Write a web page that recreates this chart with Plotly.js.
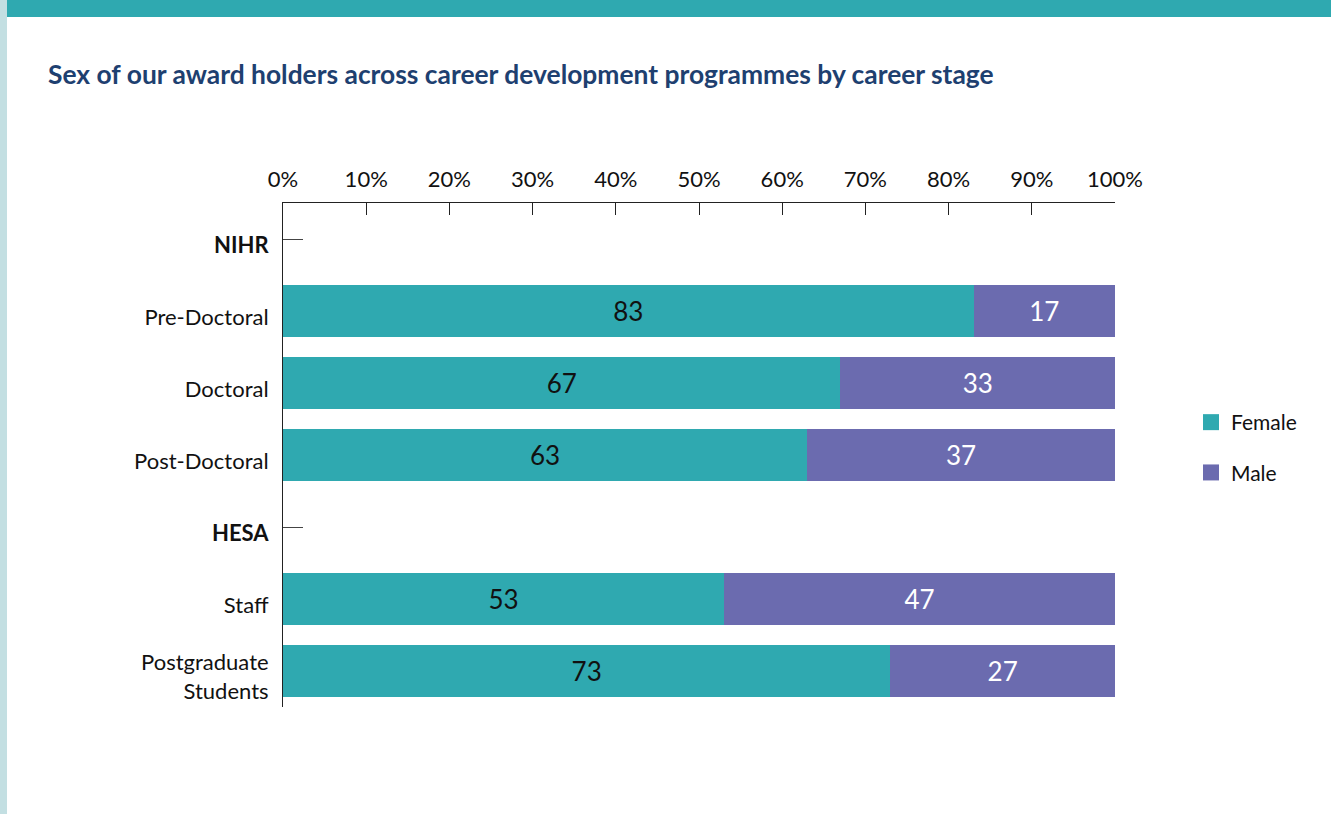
<!DOCTYPE html>
<html>
<head>
<meta charset="utf-8">
<script src="https://cdn.plot.ly/plotly-3.0.1.min.js"></script>
<style>
  html, body { margin: 0; padding: 0; background: #ffffff; width: 1331px; height: 814px; overflow: hidden; }
  #leftstrip { position: absolute; left: 0; top: 0; width: 7px; height: 814px; background: #c3dfe2; }
  #topbar { position: absolute; left: 7px; top: 0; width: 1324px; height: 17px; background: #2fa9b0; }
  #chart { position: absolute; left: 0; top: 0; width: 1331px; height: 814px; }
</style>
</head>
<body>
<div id="leftstrip"></div>
<div id="topbar"></div>
<div id="chart"></div>
<script>
const categories = ["NIHR", "Pre-Doctoral", "Doctoral", "Post-Doctoral", "HESA", "Staff", "Postgraduate Students"];
const categoryLabels = ["<b>NIHR</b>", "Pre-Doctoral", "Doctoral", "Post-Doctoral", "<b>HESA</b>", "Staff", "Postgraduate<br>Students"];
const female = [null, 83, 67, 63, null, 53, 73];
const male = [null, 17, 33, 37, null, 47, 27];
const xTickVals = [0, 10, 20, 30, 40, 50, 60, 70, 80, 90, 100];
const xTickText = xTickVals.map(v => v + "%");

const teal = "#2fa9b0";
const purple = "#6b6baf";

const traces = [
  {
    type: "bar", orientation: "h", name: "Female",
    y: categories, x: female,
    text: female.map(v => v == null ? "" : String(v)),
    textposition: "inside", insidetextanchor: "middle",
    insidetextfont: { family: "Lato", size: 26, color: "#111111" },
    marker: { color: teal }, showlegend: false, hoverinfo: "skip"
  },
  {
    type: "bar", orientation: "h", name: "Male",
    y: categories, x: male,
    text: male.map(v => v == null ? "" : String(v)),
    textposition: "inside", insidetextanchor: "middle",
    insidetextfont: { family: "Lato", size: 26, color: "#ffffff" },
    marker: { color: purple }, showlegend: false, hoverinfo: "skip"
  },
  {
    type: "scatter", mode: "markers", name: "Female", x: [null], y: [null],
    marker: { symbol: "square", size: 19, color: teal }, showlegend: true, legendgroup: "f"
  },
  {
    type: "scatter", mode: "markers", name: "Male", x: [null], y: [null],
    marker: { symbol: "square", size: 19, color: purple }, showlegend: true, legendgroup: "m"
  }
];

const layout = {
  width: 1331, height: 814,
  paper_bgcolor: "rgba(0,0,0,0)", plot_bgcolor: "rgba(0,0,0,0)",
  font: { family: "Lato", size: 22, color: "#111111" },
  margin: { l: 283, r: 216, t: 203, b: 107, pad: 0 },
  title: {
    text: "Sex of our award holders across career development programmes by career stage",
    font: { family: "Lato", size: 26.4, color: "#1e4070", weight: "bold" },
    xref: "container", yref: "container", x: 48 / 1331, xanchor: "left",
    y: 1 - 75 / 814, yanchor: "middle"
  },
  barmode: "stack",
  bargap: 0.278,
  xaxis: {
    side: "top", range: [0, 100], tickvals: xTickVals, ticktext: xTickText,
    showgrid: false, zeroline: false, showline: true, linecolor: "#222222", linewidth: 1,
    ticks: "inside", ticklen: 12, tickcolor: "#222222", tickwidth: 1,
    ticklabelstandoff: 6,
    tickfont: { family: "Lato", size: 22, color: "#111111" }, fixedrange: true
  },
  yaxis: {
    type: "category", categoryorder: "array", categoryarray: categories,
    range: [6.5, -0.5], tickvals: categories, ticktext: categoryLabels,
    showgrid: false, zeroline: false, showline: true, linecolor: "#222222", linewidth: 1,
    ticks: "inside", ticklen: 20, tickcolor: "#444444", tickwidth: 1,
    ticklabelstandoff: 9, ticklabelshift: -6, layer: "below traces",
    tickfont: { family: "Lato", size: 22, color: "#111111" }, fixedrange: true
  },
  showlegend: true,
  legend: {
    x: (1191 - 283) / 832, xanchor: "left",
    y: 1 - (402 - 203) / 504, yanchor: "top",
    bgcolor: "rgba(0,0,0,0)", font: { family: "Lato", size: 21, color: "#111111" },
    tracegroupgap: 20, itemwidth: 30, traceorder: "grouped"
  }
};

Plotly.newPlot("chart", traces, layout, { displayModeBar: false, staticPlot: true });
</script>
</body>
</html>
